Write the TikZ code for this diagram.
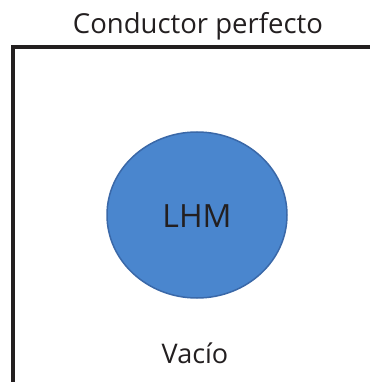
\documentclass[tikz,border=0pt]{standalone}
\usepackage{fontspec}
\setmainfont{Open Sans}
\usetikzlibrary{positioning}
\definecolor{lhmblue}{RGB}{74,134,206}
\definecolor{lhmedge}{RGB}{58,104,168}
\definecolor{ink}{RGB}{35,31,32}
\tikzset{
    label text/.style={text=ink, font=\fontsize{25}{30}\selectfont, inner sep=0pt},
    medium/.style={ellipse, fill=lhmblue, draw=lhmedge, line width=1.5pt, minimum width=180pt, minimum height=166pt, inner sep=0pt}
}
\usetikzlibrary{shapes.geometric}
\begin{document}
\begin{tikzpicture}[x=1pt, y=-1pt]
\useasboundingbox (0,0) rectangle (370,382);
\draw[ink, line width=3.2pt](13,382)--(13,47)--(370,47);
\node[label text, font=\fontsize{27.5}{33}\selectfont, anchor=base] (titulo) at (198,34) {Conductor perfecto};
\node[medium] (lhm) at (197,215) {};
\node[label text, font=\fontsize{32}{38}\selectfont, anchor=base] (lhmtext) at (197,227) {LHM};
\node[label text, font=\fontsize{27}{32}\selectfont, anchor=base] (vacio) at (195,363) {Vacío};
\end{tikzpicture}
\end{document}
